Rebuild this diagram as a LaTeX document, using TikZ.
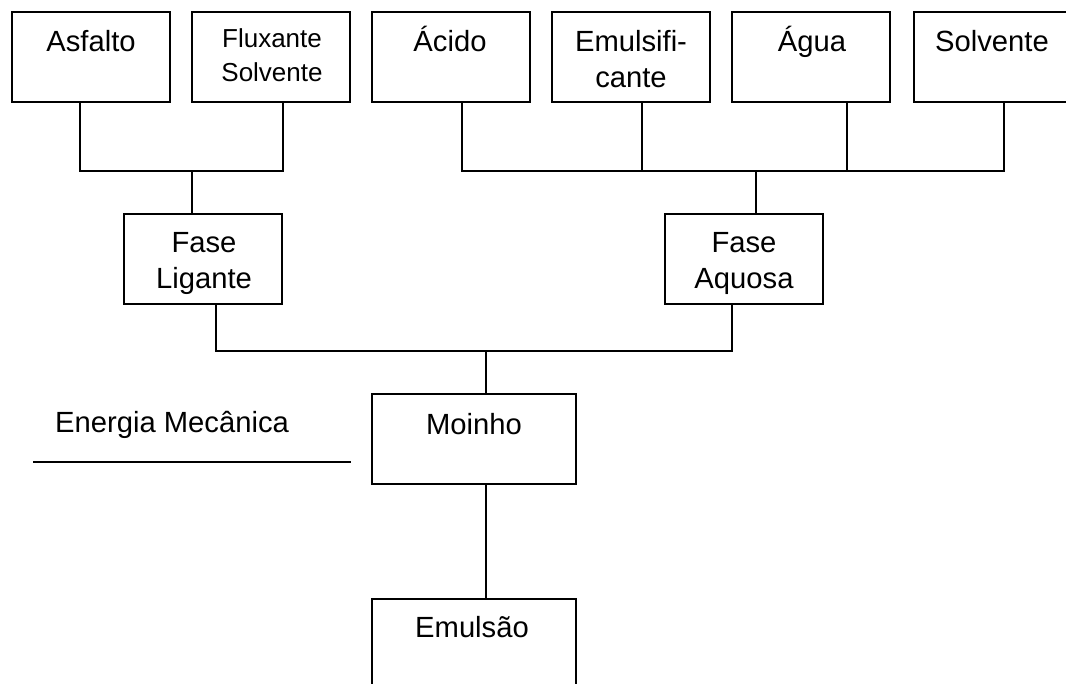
\documentclass[tikz,border=0pt]{standalone}
\usepackage{fontspec}
\setmainfont{Liberation Sans}
\begin{document}
\begin{tikzpicture}[x=1pt,y=-1pt,
  box/.style={draw,line width=1.2pt,minimum width=158pt,minimum height=90pt,inner sep=0pt},
  widebox/.style={box,minimum width=204pt},
  lbl/.style={anchor=base,inner sep=0pt,font=\fontsize{29.2}{35}\selectfont},
  sml/.style={anchor=base,inner sep=0pt,font=\fontsize{26}{31}\selectfont},
  conn/.style={line width=1.2pt}]
\useasboundingbox (0,0) rectangle (1066,684);
% boxes
\node[box] (asf) at (91,57) {};
\node[box] (flux) at (271,57) {};
\node[box] (acid) at (451,57) {};
\node[box] (emul) at (631,57) {};
\node[box] (agua) at (811,57) {};
\node[box] (solv) at (993,57) {};
\node[box] (lig) at (203,259) {};
\node[box] (aq) at (744,259) {};
\node[widebox] (moinho) at (474,439) {};
\node[widebox] (emuls) at (474,644) {};
% labels
\node[lbl] (tasf) at (91,52) {Asfalto};
\node[sml] (tflux1) at (272,48) {Fluxante};
\node[sml] (tflux2) at (272,82) {Solvente};
\node[lbl] (tacid) at (450,52) {Ácido};
\node[lbl] (temul1) at (631,52) {Emulsifi-};
\node[lbl] (temul2) at (631,88) {cante};
\node[lbl] (tagua) at (812,52) {Água};
\node[lbl] (tsolv) at (992,52) {Solvente};
\node[lbl] (tlig1) at (204,253) {Fase};
\node[lbl] (tlig2) at (204,289) {Ligante};
\node[lbl] (taq1) at (744,253) {Fase};
\node[lbl] (taq2) at (744,289) {Aquosa};
\node[lbl] (tmoi) at (474,435) {Moinho};
\node[lbl] (temu) at (472,637) {Emulsão};
\node[lbl,anchor=base west] (tener) at (55,433) {Energia Mecânica};
% junctions
\coordinate (jL) at (192,171);
\coordinate (jR) at (756,171);
\coordinate (jM) at (486,351);
\coordinate (e1) at (33,462);
\coordinate (e2) at (351,462);
% connectors
\draw[conn] ([xshift=-11pt]asf.south) |- (jL);
\draw[conn] ([xshift=12pt]flux.south) |- (jL);
\draw[conn] (jL) -- (jL |- lig.north);
\draw[conn] ([xshift=11pt]acid.south) |- (jR);
\draw[conn] ([xshift=11pt]emul.south) |- (jR);
\draw[conn] ([xshift=36pt]agua.south) |- (jR);
\draw[conn] ([xshift=11pt]solv.south) |- (jR);
\draw[conn] (jR) -- (jR |- aq.north);
\draw[conn] ([xshift=13pt]lig.south) |- (jM);
\draw[conn] ([xshift=-12pt]aq.south) |- (jM);
\draw[conn] (jM) -- (jM |- moinho.north);
\draw[conn] ([xshift=12pt]moinho.south) -- ([xshift=12pt]emuls.north);
\draw[conn] (e1) -- (e2);
\end{tikzpicture}
\end{document}
